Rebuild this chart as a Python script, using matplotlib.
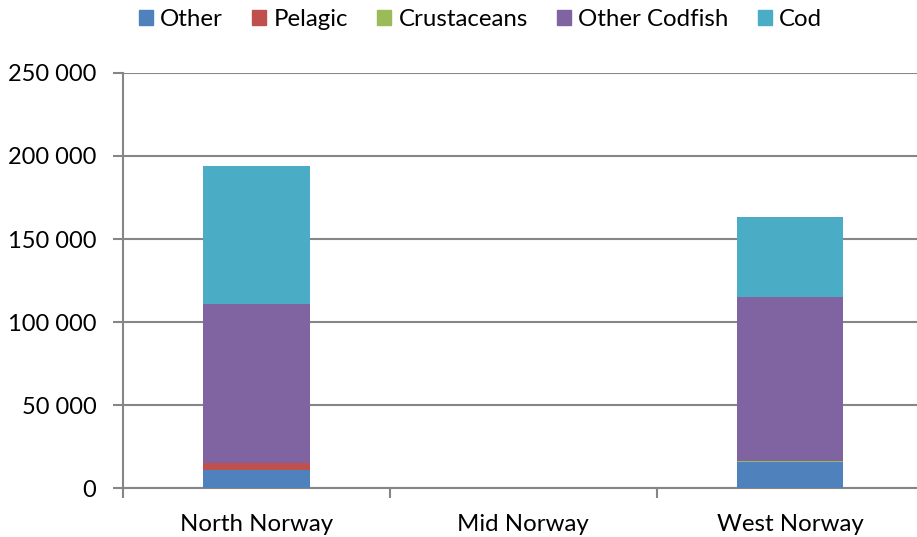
import matplotlib.pyplot as plt
from matplotlib.patches import Patch
from matplotlib.ticker import FuncFormatter
import numpy as np

plt.rcParams['font.family'] = ['Lato', 'DejaVu Sans']

regions = ['North Norway', 'Mid Norway', 'West Norway']
series = ['Other', 'Pelagic', 'Crustaceans', 'Other Codfish', 'Cod']
other = [10800, 0, 15600]
pelagic = [4200, 0, 0]
crustaceans = [0, 0, 900]
other_codfish = [95900, 0, 98600]
cod = [83000, 0, 47900]

colors = ['#4F81BD', '#C0504D', '#9BBB59', '#8064A2', '#4BACC6']
gray = '#868686'

fig = plt.figure(figsize=(9.17, 5.37), dpi=100)
ax = fig.add_axes([122.7 / 917, 48.7 / 537, 800.8 / 917, 415.5 / 537])

xs = np.arange(len(regions))
bottom = np.zeros(len(regions))
for name, vals, c in zip(series, [other, pelagic, crustaceans, other_codfish, cod], colors):
    vals = np.asarray(vals, dtype=float)
    ax.bar(xs, vals, 0.4, bottom=bottom, color=c, linewidth=0, label=name, zorder=3)
    bottom += vals

ax.set_xlim(-0.5, 2.5)
ax.set_ylim(0, 250000)
ax.set_yticks(np.arange(0, 250001, 50000))
ax.yaxis.set_major_formatter(FuncFormatter(lambda v, p: f'{int(v):,}'.replace(',', ' ')))
ax.yaxis.grid(True, color=gray, linewidth=1.5, zorder=0)

ax.set_xticks(xs)
ax.set_xticklabels(regions)
ax.set_xticks([-0.5, 0.5, 1.5, 2.5], minor=True)
ax.tick_params(axis='x', which='major', length=0, pad=18.5, labelsize=17.3)
ax.tick_params(axis='x', which='minor', length=7, width=1.5, color=gray)
ax.tick_params(axis='y', length=7, width=1.5, color=gray, pad=12, labelsize=17)

for s in ['top', 'right']:
    ax.spines[s].set_visible(False)
for s in ['left', 'bottom']:
    ax.spines[s].set_color(gray)
    ax.spines[s].set_linewidth(1.5)

handles = [Patch(color=c, label=n) for n, c in zip(series, colors)]
fig.legend(handles=handles, loc='upper center', bbox_to_anchor=(0.524, 1.024), ncol=5,
           frameon=False, fontsize=17.3, handlelength=0.6, handleheight=0.6,
           handletextpad=0.3, columnspacing=1.2)

plt.savefig('out.png', dpi=100)
